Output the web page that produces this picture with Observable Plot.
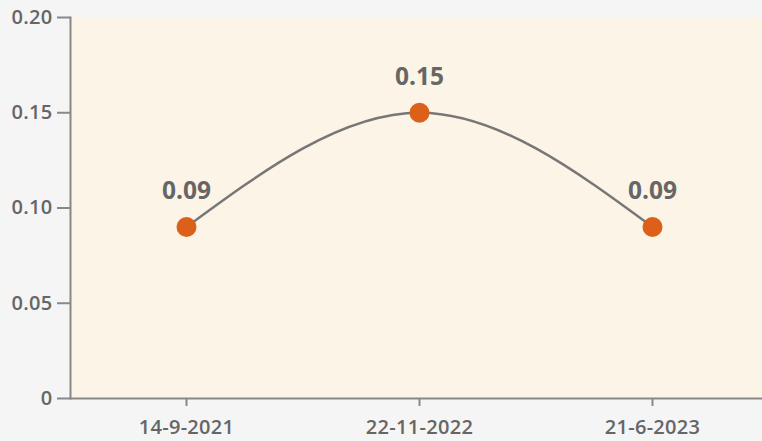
<!DOCTYPE html>
<html>
<head>
<meta charset="utf-8">
<script src="https://cdn.jsdelivr.net/npm/d3@7"></script>
<script src="https://cdn.jsdelivr.net/npm/@observablehq/plot@0.6"></script>
<style>
  html, body { margin: 0; padding: 0; background: #f5f5f5; }
  #chart svg { display: block; }
</style>
</head>
<body>
<div id="chart"></div>
<script>
const dates = ["14-9-2021", "22-11-2022", "21-6-2023"];
const values = [0.09, 0.15, 0.09];
const yTicks = [0, 0.05, 0.10, 0.15, 0.20];

const data = dates.map((d, i) => ({date: d, value: values[i]}));
const font = "'Open Sans', 'Noto Sans', sans-serif";

const chart = Plot.plot({
  width: 762,
  height: 441,
  marginTop: 17,
  marginBottom: 43,
  marginLeft: 70,
  marginRight: 0,
  style: {background: "#f5f5f5", fontFamily: font, color: "#666"},
  x: {type: "point", domain: dates, padding: 0.48, align: 0.515, label: null},
  y: {domain: [0, 0.2], label: null},
  marks: [
    Plot.frame({fill: "#fcf4e6", stroke: "none"}),
    Plot.ruleY([0], {stroke: "#888", strokeWidth: 2}),
    Plot.frame({anchor: "left", stroke: "#888", strokeWidth: 2}),
    Plot.axisY({ticks: yTicks, tickFormat: d => d === 0 ? "0" : d.toFixed(2), tickSize: 13, tickPadding: 5, stroke: "#888", strokeWidth: 2, fill: "#666"}),
    Plot.axisX({tickSize: 8, tickPadding: 13, stroke: "#888", strokeWidth: 2, fill: "#666"}),
    Plot.line(data, {x: "date", y: "value", curve: "natural", stroke: "#777", strokeWidth: 2.5}),
    Plot.dot(data, {x: "date", y: "value", r: 10, fill: "#dc6019", stroke: "none"}),
    Plot.text(data, {x: "date", y: "value", text: d => d.value.toFixed(2), dy: -36, fontSize: 24.5, fontWeight: 700, fill: "#666"})
  ]
});
d3.select(chart).selectAll('g[aria-label*="tick label"], g[aria-label*="tick label"] text')
  .style("font-size", "20px").style("font-weight", "600").style("letter-spacing", "0.3px");
document.getElementById("chart").appendChild(chart);
</script>
</body>
</html>
